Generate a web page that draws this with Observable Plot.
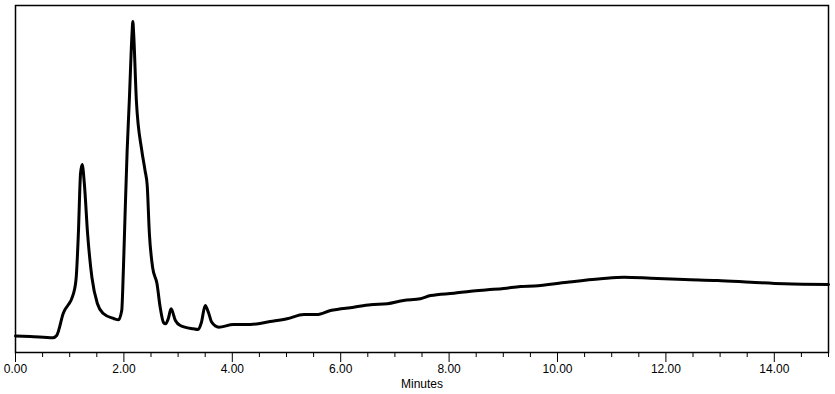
<!DOCTYPE html>
<html>
<head>
<meta charset="utf-8">
<script src="https://cdn.jsdelivr.net/npm/d3@7"></script>
<script src="https://cdn.jsdelivr.net/npm/@observablehq/plot@0.6"></script>
<style>
  html, body { margin: 0; padding: 0; background: #fff; }
  #chart { width: 835px; height: 394px; }
</style>
</head>
<body>
<div id="chart"></div>
<script>
// Retention time (minutes)
const minutes = [
  0.00, 0.27, 0.69, 0.76, 0.88, 1.07, 1.12, 1.16, 1.20, 1.23, 1.27, 1.33, 1.41, 1.51, 1.62, 1.81, 1.90,
  1.96, 1.99, 2.02, 2.06, 2.10, 2.15, 2.165, 2.18, 2.23, 2.33, 2.39, 2.43, 2.47, 2.53, 2.61, 2.67, 2.73,
  2.77, 2.82, 2.87, 2.95, 3.04, 3.28, 3.37, 3.43, 3.50, 3.56, 3.62, 3.75, 4.02, 4.33, 4.70, 5.01, 5.32,
  5.56, 5.81, 6.24, 6.55, 6.86, 7.16, 7.47, 7.66, 8.09, 8.40, 8.71, 9.01, 9.32, 9.57, 10.18, 10.80,
  11.23, 11.72, 12.34, 12.95, 13.57, 14.18, 15.00
];
// Detector signal (arbitrary units)
const signal = [
  16.5, 16, 14.7, 17, 39, 59, 75, 119, 179, 188, 169, 119, 75, 49, 39, 34, 32.7,
  42, 82, 135, 202, 252, 319, 331, 319, 252, 202, 182, 167, 119, 85, 69, 45, 30,
  28.7, 34, 43.7, 32, 27, 23.7, 23, 30, 47, 40, 30.3, 25.3, 28, 28, 31, 33.7, 38,
  38, 42, 45.3, 47.7, 48.7, 52, 53.7, 57, 59.3, 61.3, 62.7, 64, 66, 66.5, 70.3, 73.7,
  75.3, 74.3, 73, 72, 70.3, 68.7, 68
];
const majorTicks = [0, 2, 4, 6, 8, 10, 12, 14];
const minorTicks = [0.5, 1, 1.5, 2.5, 3, 3.5, 4.5, 5, 5.5, 6.5, 7, 7.5, 8.5, 9, 9.5, 10.5, 11, 11.5, 12.5, 13, 13.5, 14.5, 15];
const xLabel = "Minutes";

const data = minutes.map((t, i) => ({t, v: signal[i]}));

const chart = Plot.plot({
  width: 835,
  height: 394,
  marginLeft: 15,
  marginRight: 7,
  marginTop: 5,
  marginBottom: 42,
  style: {fontFamily: "Liberation Sans, Arial, sans-serif", color: "black", background: "white", overflow: "visible"},
  x: {domain: [0, 15], label: null},
  y: {domain: [0, 347], axis: null},
  marks: [
    Plot.line(data, {x: "t", y: "v", stroke: "black", strokeWidth: 3, curve: "monotone-x", strokeLinejoin: "round"}),
    Plot.frame({stroke: "black", strokeWidth: 1.5}),
    Plot.axisX({ticks: minorTicks, tickSize: 5, text: null, strokeWidth: 1}),
    Plot.axisX({ticks: majorTicks, tickSize: 10, tickPadding: 2, fontSize: 12, tickFormat: d => d.toFixed(2), strokeWidth: 1, label: null}),
    Plot.text([xLabel], {frameAnchor: "bottom", text: d => d, dy: 35, fontSize: 12, fill: "black"})
  ]
});
document.getElementById("chart").append(chart);
</script>
</body>
</html>
